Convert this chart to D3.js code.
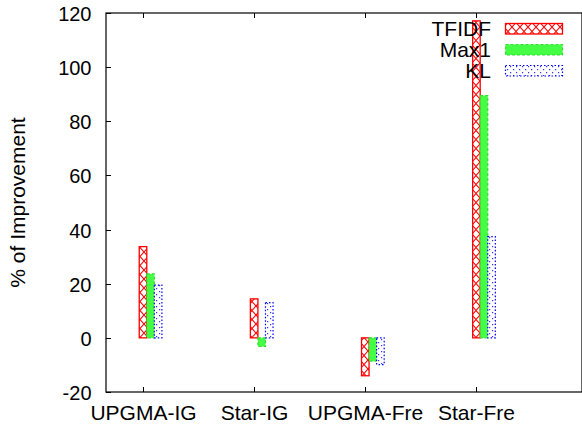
<!DOCTYPE html>
<html>
<head>
<meta charset="utf-8">
<script src="https://cdn.jsdelivr.net/npm/d3@7"></script>
<style>
  html, body { margin: 0; padding: 0; background: #fff; }
  svg { display: block; font-family: "Liberation Sans", Arial, Helvetica, sans-serif; }
</style>
</head>
<body>
<svg id="chart" width="582" height="429"></svg>
<script>
// Categories along the x axis
const categories = ["UPGMA-IG", "Star-IG", "UPGMA-Fre", "Star-Fre"];
// Series names (legend order)
const seriesNames = ["TFIDF", "Max1", "KL"];
// Percentage improvement per category
const tfidf = [33.7, 14.4, -14.0, 117.1];
const max1  = [23.6, -3.2, -8.6, 89.5];
const kl    = [19.5, 13.0, -9.9, 37.4];
// Y tick values
const yTicks = [-20, 0, 20, 40, 60, 80, 100, 120];

const seriesValues = [tfidf, max1, kl];

const svg = d3.select("#chart");
const plotLeft = 106, plotRight = 582, plotTop = 13, plotBottom = 392;

const x = d3.scaleLinear().domain([0.667, 4.95]).range([plotLeft, plotRight]);
const y = d3.scaleLinear().domain([-20, 120]).range([plotBottom, plotTop]);

// Fill patterns
const defs = svg.append("defs");
const hatch = defs.append("pattern")
  .attr("id", "pat-tfidf").attr("patternUnits", "userSpaceOnUse")
  .attr("width", 8).attr("height", 9);
hatch.append("rect").attr("width", 8).attr("height", 9).attr("fill", "#fff");
hatch.append("path").attr("d", "M0,0L8,9M8,0L0,9")
  .attr("stroke", "#ff0000").attr("stroke-width", 1.1).attr("fill", "none");

const dots = defs.append("pattern")
  .attr("id", "pat-kl").attr("patternUnits", "userSpaceOnUse")
  .attr("width", 6).attr("height", 6);
dots.append("rect").attr("width", 6).attr("height", 6).attr("fill", "#fff");
dots.append("rect").attr("x", 0).attr("y", 0).attr("width", 1.2).attr("height", 1.2).attr("fill", "#3030ff");
dots.append("rect").attr("x", 3).attr("y", 3).attr("width", 1.2).attr("height", 1.2).attr("fill", "#3030ff");

const styles = [
  { fill: "url(#pat-tfidf)", stroke: "#ff0000", dash: null, sw: 1.3 },
  { fill: "#44ff44", stroke: "#33dd33", dash: "3,2", sw: 1.2 },
  { fill: "url(#pat-kl)", stroke: "#0000ff", dash: "1.5,2", sw: 1.2 }
];

// Frame
svg.append("rect")
  .attr("x", plotLeft).attr("y", plotTop)
  .attr("width", plotRight - plotLeft).attr("height", plotBottom - plotTop)
  .attr("fill", "none").attr("stroke", "#000").attr("stroke-width", 1.2);

// Y axis ticks & labels
yTicks.forEach(t => {
  const yy = Math.round(y(t)) + 0.5;
  svg.append("line").attr("x1", plotLeft).attr("x2", plotLeft + 5)
    .attr("y1", yy).attr("y2", yy).attr("stroke", "#000");
  svg.append("text").attr("x", 91.5).attr("y", yy + 7)
    .attr("text-anchor", "end").attr("font-size", 20).text(t);
});

// X axis ticks & labels
categories.forEach((c, i) => {
  const xx = Math.round(x(i + 1)) + 0.5;
  svg.append("line").attr("x1", xx).attr("x2", xx)
    .attr("y1", plotBottom).attr("y2", plotBottom - 5).attr("stroke", "#000");
  svg.append("line").attr("x1", xx).attr("x2", xx)
    .attr("y1", plotTop).attr("y2", plotTop + 5).attr("stroke", "#000");
  svg.append("text").attr("x", xx).attr("y", 420)
    .attr("text-anchor", "middle").attr("font-size", 21).text(c);
});

// Y axis title
svg.append("text")
  .attr("transform", "translate(25,202.5) rotate(-90)")
  .attr("text-anchor", "middle").attr("font-size", 21)
  .text("% of Improvement");

// Bars
const bw = 0.068;
seriesValues.forEach((vals, s) => {
  const st = styles[s];
  svg.append("g").selectAll("rect").data(vals).join("rect")
    .attr("x", (d, i) => x(i + 1 - bw / 2 + s * bw))
    .attr("width", x(bw) - x(0))
    .attr("y", d => y(Math.max(0, d)))
    .attr("height", d => Math.abs(y(d) - y(0)))
    .attr("fill", st.fill)
    .attr("stroke", st.stroke)
    .attr("stroke-width", st.sw)
    .attr("stroke-dasharray", st.dash);
});

// Legend
seriesNames.forEach((n, s) => {
  const st = styles[s];
  const cy = 28.5 + s * 21;
  svg.append("text").attr("x", 491).attr("y", cy + 7.5)
    .attr("text-anchor", "end").attr("font-size", 21).text(n);
  svg.append("rect").attr("x", 505.5).attr("y", cy - 5)
    .attr("width", 57).attr("height", 10.5)
    .attr("fill", st.fill).attr("stroke", st.stroke)
    .attr("stroke-width", st.sw).attr("stroke-dasharray", st.dash);
});
</script>
</body>
</html>
